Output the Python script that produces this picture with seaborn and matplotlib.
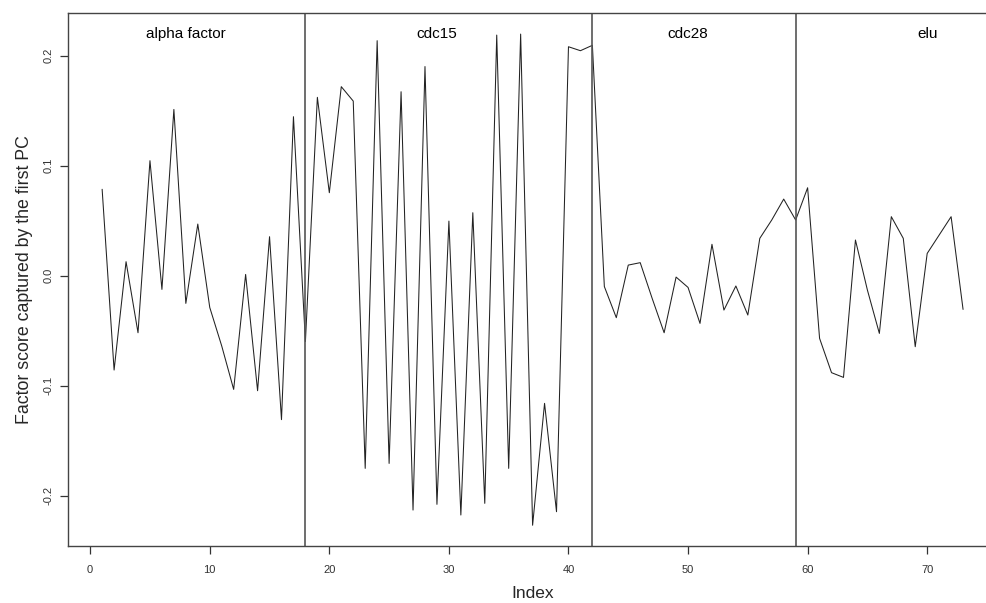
import numpy as np
import pandas as pd
import matplotlib
matplotlib.use("Agg")
import matplotlib.pyplot as plt
import seaborn as sns

index = list(range(1, 74))
scores = [
    0.0784, -0.0859, 0.0126, -0.0520, 0.1044, -0.0126, 0.1510, -0.0253, 0.0468, -0.0290,
    -0.0640, -0.1035, 0.0010, -0.1047, 0.0353, -0.1310, 0.1444, -0.0600, 0.1620, 0.0753,
    0.1717, 0.1586, -0.1753, 0.2135, -0.1708, 0.1671, -0.2132, 0.1900, -0.2080, 0.0495,
    -0.2177, 0.0571, -0.2071, 0.2186, -0.1753, 0.2195, -0.2270, -0.1162, -0.2147, 0.2080,
    0.2044, 0.2093, -0.0100, -0.0383, 0.0095, 0.0117, -0.0208, -0.0520, -0.0014, -0.0108,
    -0.0435, 0.0284, -0.0314, -0.0095, -0.0359, 0.0338, 0.0505, 0.0695, 0.0505, 0.0798,
    -0.0571, -0.0883, -0.0926, 0.0323, -0.0132, -0.0526, 0.0535, 0.0338, -0.0647, 0.0201,
    0.0368, 0.0535, -0.0308,
]
boundaries = [18, 42, 59]
group_names = ["alpha factor", "cdc15", "cdc28", "elu"]
group_label_x = [8, 29, 50, 70]
group_label_y = 0.22
x_ticks = [0, 10, 20, 30, 40, 50, 60, 70]
y_ticks = [-0.2, -0.1, 0.0, 0.1, 0.2]

df = pd.DataFrame({"Index": index, "score": scores})

sns.set_style("white")
plt.rcParams['font.family'] = ['Liberation Sans', 'DejaVu Sans']

fig = plt.figure(figsize=(9.86, 6.03), dpi=100)
ax = fig.add_axes([67.7 / 986, 57.3 / 603, (997.5 - 67.7) / 986, (545.7 - 13.3) / 603])

sns.lineplot(data=df, x="Index", y="score", ax=ax, color="#222222", linewidth=0.75,
             estimator=None, sort=False)

for b in boundaries:
    ax.axvline(b, color="#555555", linewidth=1.2)

for name, gx in zip(group_names, group_label_x):
    ax.text(gx, group_label_y, name, ha="center", va="center", fontsize=11, color="black")

ax.set_xlim(-1.88, 75.88)
ax.set_ylim(-0.2456, 0.2384)
ax.set_xticks(x_ticks)
ax.set_xticklabels([str(t) for t in x_ticks], fontsize=8, color="#333333")
ax.set_yticks(y_ticks)
ax.set_yticklabels([f"{t:.1f}" for t in y_ticks], fontsize=8, color="#333333",
                   rotation=90, va="center")
ax.tick_params(axis="x", direction="out", length=6, width=0.9, color="#333333",
               bottom=True, pad=8)
ax.tick_params(axis="y", direction="out", length=6, width=0.9, color="#333333",
               left=True, pad=4)

for side in ["left", "bottom", "top"]:
    ax.spines[side].set_visible(True)
    ax.spines[side].set_color("#444444")
    ax.spines[side].set_linewidth(1.0)
ax.spines["right"].set_visible(False)

ax.set_xlabel("Index", fontsize=12.5, labelpad=8)
ax.set_ylabel("Factor score captured by the first PC", fontsize=12.8, labelpad=8)

fig.savefig("out.png", dpi=100)
